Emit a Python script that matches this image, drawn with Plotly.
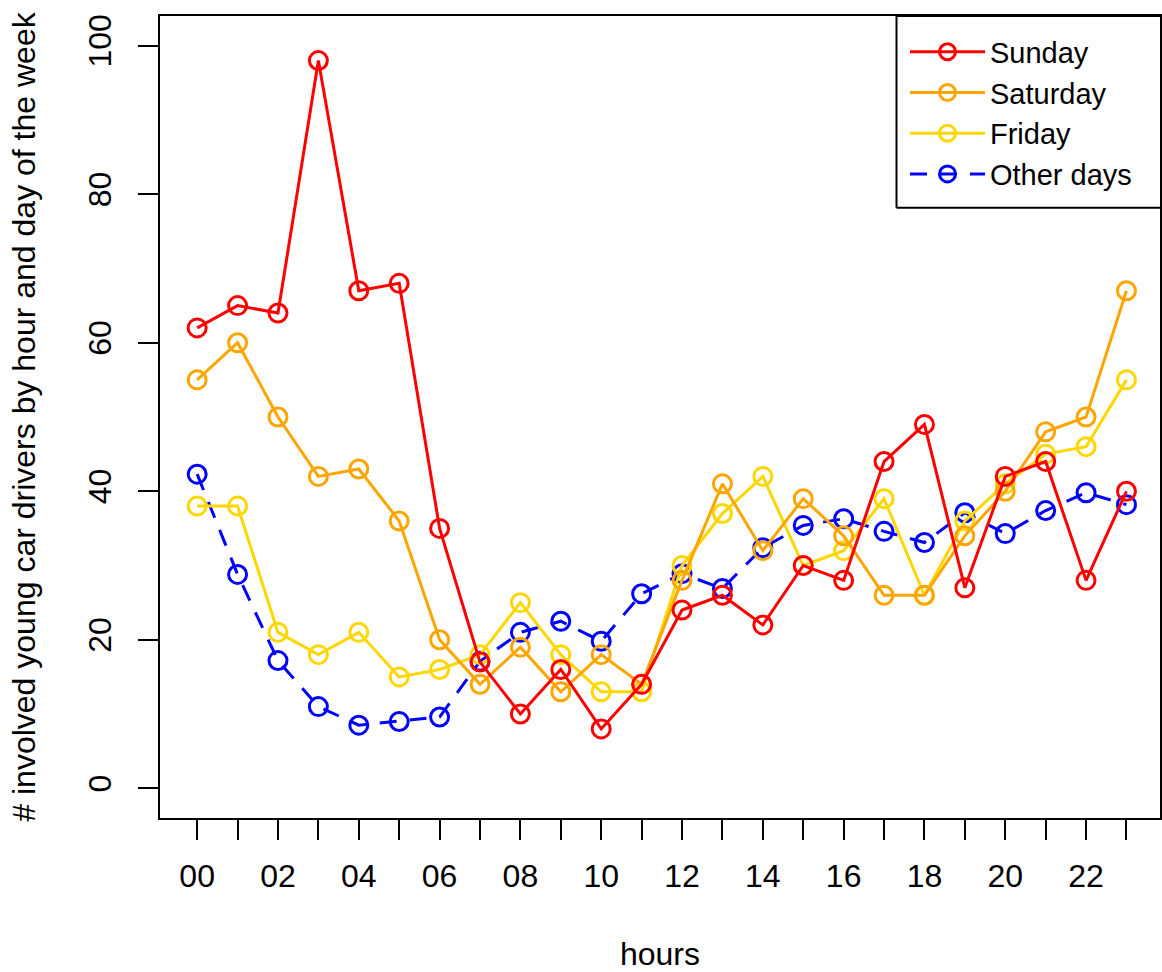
import plotly.graph_objects as go

# Hour of day (0..23) and the even-hour tick labels
hours = list(range(24))
hour_labels = [f"{h:02d}" if h % 2 == 0 else "" for h in hours]

# Involved young car drivers per hour
sunday = [62, 65, 64, 98, 67, 68, 35, 17, 10, 16, 8, 14,
          24, 26, 22, 30, 28, 44, 49, 27, 42, 44, 28, 40]
saturday = [55, 60, 50, 42, 43, 36, 20, 14, 19, 13, 18, 14,
            28, 41, 32, 39, 34, 26, 26, 34, 40, 48, 50, 67]
friday = [38, 38, 21, 18, 21, 15, 16, 18, 25, 18, 13, 13,
          30, 37, 42, 30, 32, 39, 26, 36, 41, 45, 46, 55]
other_days = [42.3, 28.8, 17.2, 11.0, 8.5, 9.0, 9.6, 17.1, 21.0, 22.5, 19.8, 26.2,
              28.9, 26.9, 32.4, 35.4, 36.3, 34.6, 33.1, 37.1, 34.3, 37.4, 39.8, 38.2]

FONT = "Liberation Sans, Arial, Helvetica, sans-serif"
FS = 32

fig = go.Figure()

series = [
    ("Other days", other_days, "#0000FF", "17px,13px"),
    ("Friday", friday, "#FFD700", "solid"),
    ("Saturday", saturday, "#FFA500", "solid"),
    ("Sunday", sunday, "#FF0000", "solid"),
]
for name, vals, color, dash in series:
    fig.add_trace(go.Scatter(
        x=hours, y=vals, name=name, mode="lines+markers",
        line=dict(color=color, width=3, dash=dash),
        marker=dict(symbol="circle-open", size=18, color=color,
                    line=dict(color=color, width=3)),
    ))

fig.update_layout(
    width=1162, height=972,
    margin=dict(l=160, r=0, t=16, b=154),
    paper_bgcolor="white", plot_bgcolor="white",
    font=dict(family=FONT, size=FS, color="black"),
    showlegend=True,
    legend=dict(
        x=0.745, y=0.987, xanchor="left", yanchor="top",
        traceorder="reversed",
        bgcolor="rgba(0,0,0,0)", borderwidth=0,
        font=dict(family=FONT, size=29, color="black"),
        itemwidth=75, tracegroupgap=0,
    ),
    shapes=[
        # legend frame (runs off the right edge)
        dict(type="line", xref="paper", yref="paper",
             x0=0.7365, x1=1.05, y0=1.0, y1=1.0,
             line=dict(color="black", width=2)),
        dict(type="line", xref="paper", yref="paper",
             x0=0.7365, x1=0.7365, y0=1.0, y1=0.761,
             line=dict(color="black", width=2)),
        dict(type="line", xref="paper", yref="paper",
             x0=0.7365, x1=1.05, y0=0.761, y1=0.761,
             line=dict(color="black", width=2)),
    ],
)

fig.update_xaxes(
    range=[-0.92, 23.83],
    tickmode="array", tickvals=hours, ticktext=hour_labels,
    ticks="outside", ticklen=20, tickwidth=2, tickcolor="black",
    ticklabelstandoff=9,
    showline=True, linecolor="black", linewidth=2, mirror=True,
    showgrid=False, zeroline=False,
    tickfont=dict(family=FONT, size=FS),
    title=dict(text="hours", font=dict(family=FONT, size=FS), standoff=52),
)
fig.update_yaxes(
    range=[-4, 104],
    tickmode="array", tickvals=[0, 20, 40, 60, 80, 100],
    ticks="outside", ticklen=20, tickwidth=2, tickcolor="black",
    tickangle=-90, ticklabelstandoff=14,
    showline=True, linecolor="black", linewidth=2, mirror=True,
    showgrid=False, zeroline=False,
    tickfont=dict(family=FONT, size=FS),
    title=dict(text="# involved young car drivers by hour and day of the week",
               font=dict(family=FONT, size=FS), standoff=37),
)

fig.write_html("out.html")
